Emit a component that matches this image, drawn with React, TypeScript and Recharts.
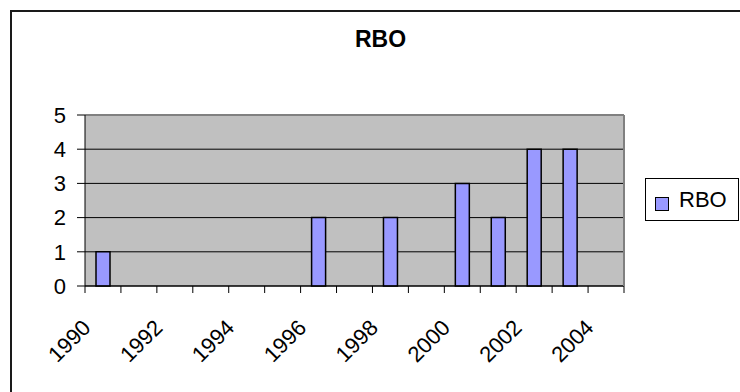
import React from 'react';
import { BarChart, Bar, XAxis, YAxis, CartesianGrid, ReferenceLine, Legend } from 'recharts';

const years = ['1990', '1991', '1992', '1993', '1994', '1995', '1996', '1997', '1998', '1999', '2000', '2001', '2002', '2003', '2004'];
const rboValues: (number | null)[] = [1, null, null, null, null, null, 2, null, 2, null, 3, 2, 4, 4, null];
const yTicks = [0, 1, 2, 3, 4, 5];
const labelYears = ['1990', '1992', '1994', '1996', '1998', '2000', '2002', '2004'];
const seriesName = 'RBO';
const title = 'RBO';

const data = years.map((y, i) => ({ year: y, RBO: rboValues[i] }));

const W = 740;
const H = 392;
const PLOT_L = 85;
const PLOT_R = 624;
const PLOT_T = 115;
const PLOT_B = 286;
const BAND = (PLOT_R - PLOT_L) / years.length;
const FONT = '"Liberation Sans", Arial, sans-serif';

function XTick(props: any) {
  const { x, y, payload, index } = props;
  const left = x - BAND / 2;
  const show = labelYears.includes(payload.value);
  const ax = x - 11;
  const ay = y + 43;
  return (
    <g>
      <line x1={left} x2={left} y1={y} y2={y + 7} stroke="#000" strokeWidth={1} />
      {index === years.length - 1 && (
        <line x1={x + BAND / 2} x2={x + BAND / 2} y1={y} y2={y + 7} stroke="#000" strokeWidth={1} />
      )}
      {show && (
        <text
          x={ax}
          y={ay}
          transform={`rotate(-45 ${ax} ${ay})`}
          textAnchor="end"
          fontSize={22}
          fontFamily={FONT}
          fill="#000"
        >
          {payload.value}
        </text>
      )}
    </g>
  );
}

function LegendBox() {
  return (
    <div
      style={{
        position: 'relative',
        width: 94,
        height: 43,
        border: '1px solid #000',
        boxSizing: 'border-box',
        background: '#fff',
        fontFamily: FONT,
      }}
    >
      <div
        style={{
          position: 'absolute',
          left: 9,
          top: 18,
          width: 14,
          height: 14,
          background: '#9999FF',
          border: '1.5px solid #000',
          boxSizing: 'border-box',
        }}
      />
      <div
        style={{
          position: 'absolute',
          left: 33,
          top: 10,
          fontSize: 22,
          lineHeight: '22px',
          color: '#000',
          whiteSpace: 'nowrap',
        }}
      >
        {seriesName}
      </div>
    </div>
  );
}

export default function App() {
  return (
    <div
      style={{
        position: 'absolute',
        left: 0,
        top: 0,
        width: W,
        height: H,
        overflow: 'hidden',
        background: '#fff',
        fontFamily: FONT,
      }}
    >
      <div
        style={{
          position: 'absolute',
          left: 10,
          top: 10,
          width: 800,
          height: 500,
          border: '2px solid #1a1a1a',
          boxSizing: 'border-box',
        }}
      />
      <div
        style={{
          position: 'absolute',
          left: 280.5,
          top: 28,
          width: 200,
          textAlign: 'center',
          fontSize: 23,
          lineHeight: '23px',
          fontWeight: 'bold',
          color: '#000',
        }}
      >
        {title}
      </div>
      <div style={{ position: 'absolute', left: 0, top: 0 }}>
        <BarChart
          width={W}
          height={H}
          data={data}
          margin={{ top: PLOT_T, right: W - PLOT_R - 1, bottom: 0, left: 0 }}
          barCategoryGap={0}
        >
          <CartesianGrid yAxisId="left" fill="#C0C0C0" stroke="#000" vertical={false} horizontal={true} />
          <XAxis
            dataKey="year"
            type="category"
            interval={0}
            height={H - PLOT_B}
            tickSize={0}
            tickMargin={0}
            tickLine={false}
            axisLine={{ stroke: '#000', strokeWidth: 1 }}
            tick={<XTick />}
          />
          <YAxis
            yAxisId="left"
            domain={[0, 5]}
            ticks={yTicks}
            interval={0}
            width={PLOT_L}
            tickSize={8}
            tickMargin={11}
            axisLine={{ stroke: '#000', strokeWidth: 1 }}
            tickLine={{ stroke: '#000', strokeWidth: 1 }}
            tick={{ fontSize: 22, fill: '#000', fontFamily: FONT }}
          />
          <YAxis
            yAxisId="right"
            orientation="right"
            domain={[0, 5]}
            width={1}
            tick={false}
            tickLine={false}
            axisLine={{ stroke: '#808080', strokeWidth: 2 }}
          />
          <ReferenceLine yAxisId="left" y={5} stroke="#808080" strokeWidth={2} />
          <Bar
            yAxisId="left"
            dataKey="RBO"
            name={seriesName}
            fill="#9999FF"
            stroke="#000"
            strokeWidth={1.5}
            barSize={14}
            isAnimationActive={false}
          />
          <Legend
            layout="horizontal"
            verticalAlign="middle"
            align="center"
            content={<LegendBox />}
            wrapperStyle={{ left: 645, top: 178, width: 94, height: 43 }}
          />
        </BarChart>
      </div>
    </div>
  );
}
